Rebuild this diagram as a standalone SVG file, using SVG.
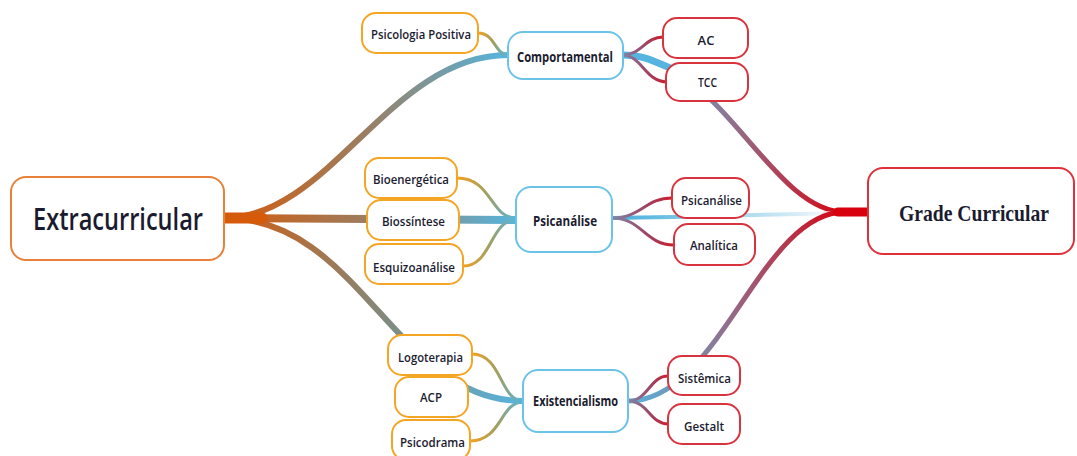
<svg xmlns="http://www.w3.org/2000/svg" width="1077" height="456" viewBox="0 0 1077 456">
<style>
.n rect{fill:#fff;stroke-width:2}
.o rect{stroke:#F5A524}
.b rect{stroke:#6CC3E8}
.r rect{stroke:#D8343F}
text{font-family:"Open Sans","Noto Sans",sans-serif;fill:#1B1B2F;text-anchor:middle;font-weight:600}
.s{font-size:13px}
.c{font-size:14px;font-weight:700}
.cl path{fill:none;stroke-linecap:round}
</style>
<defs>
<linearGradient id="gL1" gradientUnits="userSpaceOnUse" x1="224" y1="0" x2="508" y2="0"><stop offset="0" stop-color="#D55A0A"/><stop offset="0.5" stop-color="#9A7E62"/><stop offset="1" stop-color="#55B5E0"/></linearGradient>
<linearGradient id="gL2" gradientUnits="userSpaceOnUse" x1="224" y1="0" x2="516" y2="0"><stop offset="0" stop-color="#D55A0A"/><stop offset="0.5" stop-color="#9A7E62"/><stop offset="1" stop-color="#55B5E0"/></linearGradient>
<linearGradient id="gL3" gradientUnits="userSpaceOnUse" x1="224" y1="0" x2="523" y2="0"><stop offset="0" stop-color="#D55A0A"/><stop offset="0.55" stop-color="#808A80"/><stop offset="1" stop-color="#55B5E0"/></linearGradient>
<linearGradient id="gR1" gradientUnits="userSpaceOnUse" x1="622" y1="0" x2="845" y2="0"><stop offset="0" stop-color="#55B5E0"/><stop offset="0.45" stop-color="#8A7A98"/><stop offset="1" stop-color="#D8000E"/></linearGradient>
<linearGradient id="gR2" gradientUnits="userSpaceOnUse" x1="612" y1="0" x2="845" y2="0"><stop offset="0" stop-color="#45AEDC"/><stop offset="0.75" stop-color="#CDE9F5"/><stop offset="0.9" stop-color="#F0F6FA"/><stop offset="1" stop-color="#D8000E"/></linearGradient>
<linearGradient id="gR3" gradientUnits="userSpaceOnUse" x1="628" y1="0" x2="845" y2="0"><stop offset="0" stop-color="#55B5E0"/><stop offset="0.4" stop-color="#8A7A98"/><stop offset="1" stop-color="#D8000E"/></linearGradient>
<linearGradient id="gCL" x1="0" y1="0" x2="1" y2="0"><stop offset="0" stop-color="#F5A020"/><stop offset="0.5" stop-color="#A0A060"/><stop offset="1" stop-color="#55B5E0"/></linearGradient>
<linearGradient id="gCR" x1="0" y1="0" x2="1" y2="0"><stop offset="0" stop-color="#7F88A8"/><stop offset="0.6" stop-color="#A04060"/><stop offset="1" stop-color="#CC1E2C"/></linearGradient>
</defs>
<g id="connectors" class="cl">
<path d="M224,218 C330,218 390,55 508,55" stroke="url(#gL1)" stroke-width="6"/>
<path d="M224,218 C300,218 440,220 516,220" stroke="url(#gL2)" stroke-width="8"/>
<path d="M224,218 C361,218 395,401 523,401" stroke="url(#gL3)" stroke-width="6"/>
<path d="M222,218 L262,218" stroke="#D55A0A" stroke-width="11" stroke-linecap="butt"/>
<path d="M622,55 C720,55 770,212 845,212" stroke="url(#gR1)" stroke-width="5"/>
<path d="M612,218 C700,217 780,214 845,213" stroke="url(#gR2)" stroke-width="4"/>
<path d="M612,214 L700,215.6 L700,218.6 L612,222 Z" fill="#4AB0DC" stroke="none" opacity="0.9"/>
<path d="M628,401 C720,401 760,212 845,212" stroke="url(#gR3)" stroke-width="5"/>
<path d="M622,55 C645,55 655,62 670,68" stroke="#55B5E0" stroke-width="7"/>
<path d="M838,212 L869,212" stroke="#D8000E" stroke-width="9" stroke-linecap="butt"/>
<path d="M478,33 C495,33 495,55 508,55" stroke="url(#gCL)" stroke-width="3"/>
<path d="M457,178 C492,178 490,218 516,218" stroke="url(#gCL)" stroke-width="3"/>
<path d="M463,266 C492,266 490,220 516,220" stroke="url(#gCL)" stroke-width="3"/>
<path d="M472,354 C502,354 500,401 523,401" stroke="url(#gCL)" stroke-width="3"/>
<path d="M470,441 C502,441 500,402 523,402" stroke="url(#gCL)" stroke-width="3"/>
<path d="M622,55 C642,55 645,37 663,37" stroke="url(#gCR)" stroke-width="3"/>
<path d="M622,55 C642,55 645,82 667,82" stroke="url(#gCR)" stroke-width="3"/>
<path d="M612,218 C642,218 645,198 672,198" stroke="url(#gCR)" stroke-width="3"/>
<path d="M612,218 C642,218 645,245 674,245" stroke="url(#gCR)" stroke-width="3"/>
<path d="M628,401 C648,401 650,376 668,376" stroke="url(#gCR)" stroke-width="3"/>
<path d="M628,401 C648,401 650,424 668,424" stroke="url(#gCR)" stroke-width="3"/>
</g>
<g id="extracurricular" class="n"><rect x="11" y="177" width="213" height="83" rx="15" stroke="#E8803A"/><text x="118" y="230" font-size="31" font-weight="500" textLength="170" lengthAdjust="spacingAndGlyphs">Extracurricular</text></g>
<g id="grade" class="n"><rect x="868" y="168" width="206" height="86" rx="15" stroke="#E0303A"/><text x="974" y="221" font-size="24" font-weight="700" style="font-family:'Liberation Serif','DejaVu Serif',serif" textLength="150" lengthAdjust="spacingAndGlyphs">Grade Curricular</text></g>
<g id="comportamental" class="n b"><rect x="508" y="32" width="115" height="47" rx="15"/><text class="c" x="565" y="62" textLength="96" lengthAdjust="spacingAndGlyphs">Comportamental</text></g>
<g id="psicpos" class="n o"><rect x="362" y="13" width="116" height="40" rx="14"/><text class="s" x="421" y="39" textLength="100" lengthAdjust="spacingAndGlyphs">Psicologia Positiva</text></g>
<g id="ac" class="n r"><rect x="663" y="18" width="85" height="40" rx="14"/><text class="s" x="706" y="45">AC</text></g>
<g id="tcc" class="n r"><rect x="666" y="63" width="82" height="38" rx="14"/><text class="s" x="707.5" y="87" textLength="19" lengthAdjust="spacingAndGlyphs">TCC</text></g>
<g id="bioenergetica" class="n o"><rect x="365" y="158" width="92" height="40" rx="14"/><text class="s" x="411" y="184" textLength="76" lengthAdjust="spacingAndGlyphs">Bioenergética</text></g>
<g id="biossintese" class="n o"><rect x="367" y="200" width="92" height="40" rx="14"/><text class="s" x="413.5" y="226" textLength="63" lengthAdjust="spacingAndGlyphs">Biossíntese</text></g>
<g id="esquizoanalise" class="n o"><rect x="365" y="244" width="98" height="40" rx="14"/><text class="s" x="414" y="272" textLength="82" lengthAdjust="spacingAndGlyphs">Esquizoanálise</text></g>
<g id="psicanalise" class="n b"><rect x="516" y="187" width="96" height="65" rx="15"/><text class="c" x="565" y="226" textLength="64" lengthAdjust="spacingAndGlyphs">Psicanálise</text></g>
<g id="psicanalise2" class="n r"><rect x="672" y="178" width="77" height="40" rx="14"/><text class="s" x="711.5" y="205" textLength="61" lengthAdjust="spacingAndGlyphs">Psicanálise</text></g>
<g id="analitica" class="n r"><rect x="674" y="224" width="81" height="41" rx="14"/><text class="s" x="714" y="250" textLength="48" lengthAdjust="spacingAndGlyphs">Analítica</text></g>
<g id="logoterapia" class="n o"><rect x="388" y="335" width="84" height="40" rx="14"/><text class="s" x="430.5" y="362" textLength="65" lengthAdjust="spacingAndGlyphs">Logoterapia</text></g>
<g id="acp" class="n o"><rect x="395" y="377" width="73" height="40" rx="14"/><text class="s" x="431" y="402" textLength="22" lengthAdjust="spacingAndGlyphs">ACP</text></g>
<g id="psicodrama" class="n o"><rect x="392" y="420" width="78" height="40" rx="14"/><text class="s" x="432.5" y="447" textLength="65" lengthAdjust="spacingAndGlyphs">Psicodrama</text></g>
<g id="existencialismo" class="n b"><rect x="523" y="370" width="105" height="62" rx="15"/><text class="c" x="575.5" y="406" textLength="85" lengthAdjust="spacingAndGlyphs">Existencialismo</text></g>
<g id="sistemica" class="n r"><rect x="668" y="356" width="72" height="39" rx="14"/><text class="s" x="704.5" y="383" textLength="53" lengthAdjust="spacingAndGlyphs">Sistêmica</text></g>
<g id="gestalt" class="n r"><rect x="668" y="404" width="72" height="40" rx="14"/><text class="s" x="704" y="431" textLength="40" lengthAdjust="spacingAndGlyphs">Gestalt</text></g>
</svg>
